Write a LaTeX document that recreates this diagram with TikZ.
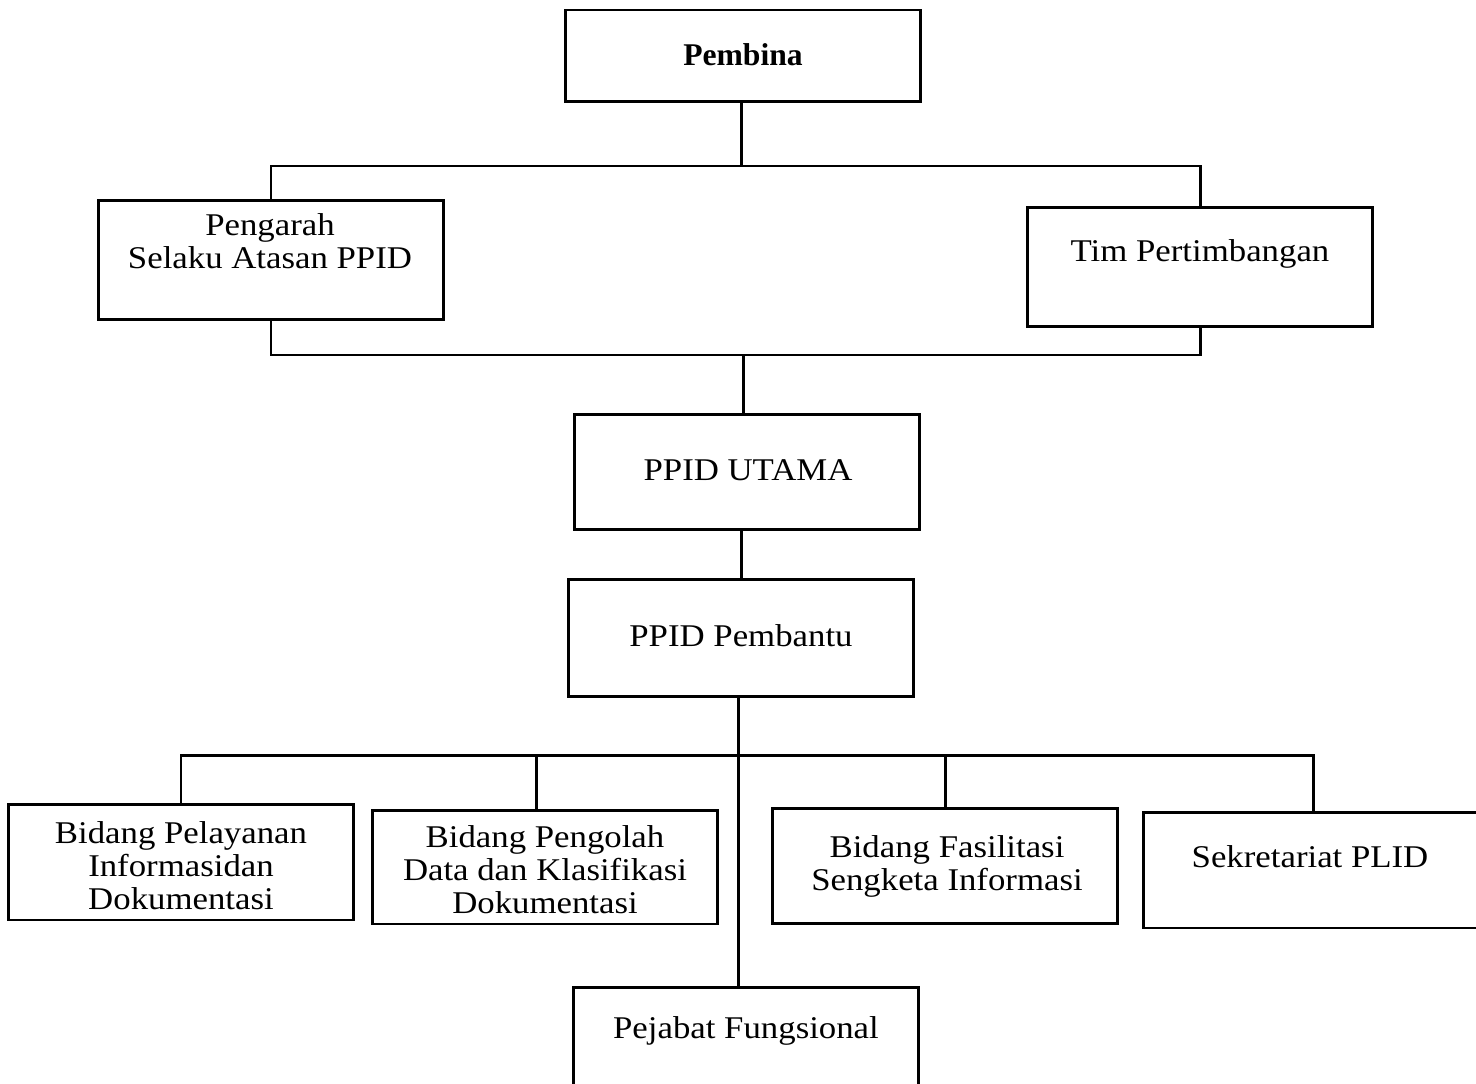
\documentclass[tikz,border=0pt]{standalone}
\usepackage{fontspec}
\setmainfont{Liberation Serif}
\newfontfamily\boxfont[FakeStretch=1.1]{Liberation Serif}
\usepackage{tikz}

\tikzset{
    box/.style={draw, line width=1.7pt, minimum width=6.9cm, minimum height=2.32cm, inner sep=0pt},
    txt/.style={align=center, font=\boxfont\fontsize{18pt}{18.8pt}\selectfont, inner sep=0pt},
    conn/.style={line width=1.7pt}
}

\begin{document}
\begin{tikzpicture}[x=0.02cm, y=-0.02cm]
    \useasboundingbox (0,0) rectangle (1476,1084);

    % Boxes
    \node[box, minimum width=7.12cm, minimum height=1.84cm] (pembina) at (743,56) {};
    \node[box, minimum height=2.4cm] (pengarah) at (271,260) {};
    \node[box, minimum height=2.4cm] (tim) at (1200,267) {};
    \node[box] (utama) at (747,472) {};
    \node[box, minimum height=2.34cm] (pembantu) at (741,638) {};
    \node[box] (pelayanan) at (181,862) {};
    \node[box, minimum height=2.28cm] (pengolah) at (545,867) {};
    \node[box, minimum height=2.3cm] (fasilitasi) at (945,866) {};
    \node[box, minimum width=6.8cm] (sekretariat) at (1313,870) {};
    \node[box] (pejabat) at (746,1045) {};

    % Texts
    \node[txt, font=\fontsize{18pt}{18.8pt}\selectfont\bfseries] (tpembina) at (743,55) {Pembina};
    \node[txt] (tpengarah) at (270,241) {Pengarah\\Selaku Atasan PPID};
    \node[txt] (ttim) at (1200,254) {Tim Pertimbangan};
    \node[txt] (tutama) at (748,470) {PPID UTAMA};
    \node[txt] (tpembantu) at (741,636) {PPID Pembantu};
    \node[txt] (tpelayanan) at (181,866) {Bidang Pelayanan\\Informasidan\\Dokumentasi};
    \node[txt] (tpengolah) at (545,870) {Bidang Pengolah\\Data dan Klasifikasi\\Dokumentasi};
    \node[txt] (tfasilitasi) at (947,866) {Bidang Fasilitasi\\Sengketa Informasi};
    \node[txt] (tsekretariat) at (1310,857) {Sekretariat PLID};
    \node[txt] (tpejabat) at (746,1031) {Pejabat Fungsional};

    % Junctions
    \coordinate (topbar) at (741,166);
    \coordinate (midbar) at (743,355);
    \coordinate (lowbar) at (738,755);
    \coordinate (dataleg) at (536,755);

    % Connectors
    \draw[conn] (topbar |- pembina.south) -- (topbar);
    \draw[conn] (pengarah.north) |- (topbar) -| (tim.north);
    \draw[conn] (pengarah.south) |- (midbar) -| (tim.south);
    \draw[conn] (midbar) -- (midbar |- utama.north);
    \draw[conn] (topbar |- utama.south) -- (topbar |- pembantu.north);
    \draw[conn] (pembantu.south -| lowbar) -- (lowbar |- pejabat.north);
    \draw[conn] (pelayanan.north) |- (lowbar) -| (sekretariat.north);
    \draw[conn] (dataleg) -- (dataleg |- pengolah.north);
    \draw[conn] (fasilitasi.north) -- (fasilitasi.north |- lowbar);
\end{tikzpicture}
\end{document}
